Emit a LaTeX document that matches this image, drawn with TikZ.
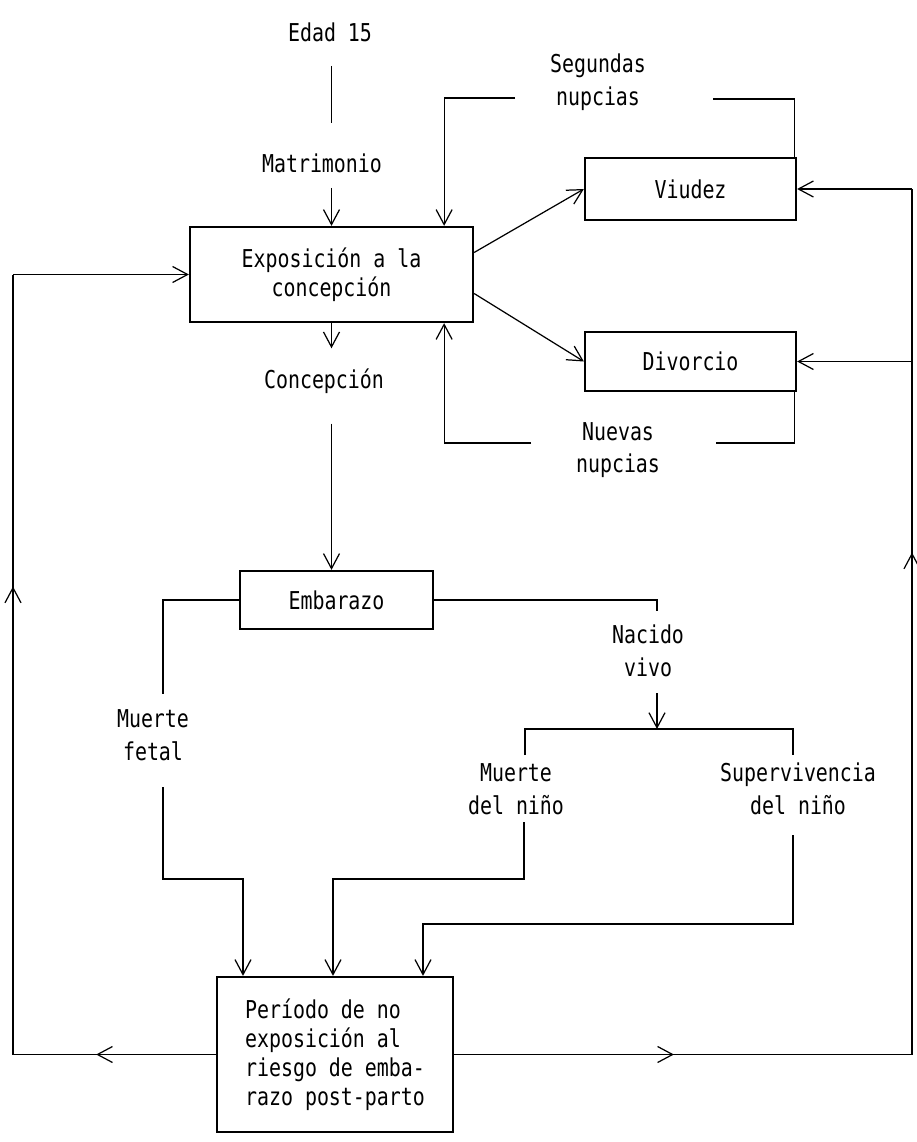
\documentclass[tikz,border=0pt]{standalone}
\usepackage{fontspec}
\usepackage{tikz}
\usetikzlibrary{arrows.meta,decorations.markings}
\newfontfamily\twfont[FakeStretch=0.81]{DejaVu Sans Mono}

\begin{document}
\begin{tikzpicture}[
  x=0.02cm, y=-0.02cm,
  font=\twfont\fontsize{14}{16.5}\selectfont,
  ln/.style={line width=0.7pt,black},
  arr/.style={ln,-{Straight Barb[length=3mm,width=3.2mm]}},
  midarr/.style={ln,postaction={decorate},
    decoration={markings,mark=at position #1 with {\arrow{Straight Barb[length=3mm,width=3.2mm]}}}},
  bx/.style={draw,line width=1.3pt,align=center,inner sep=0pt},
  lbl/.style={align=center,inner sep=0pt,font=\twfont\fontsize{14}{18.5}\selectfont},
  ]
  \useasboundingbox (0,0) rectangle (916,1142);
  \node[lbl] (edad)  at (330,32)  {Edad 15};
  \node[lbl] (matri) at (322,163) {Matrimonio};
  \node[bx,minimum width=5.66cm,minimum height=1.9cm] (expo) at (331.5,274.5) {Exposición a la\\concepción};
  \node[lbl] (concep) at (324,381) {Concepción};
  \node[bx,minimum width=4.22cm,minimum height=1.24cm] (viudez)   at (690.5,189)   {Viudez};
  \node[bx,minimum width=4.22cm,minimum height=1.18cm] (divorcio) at (690.5,361.5) {Divorcio};
  \node[lbl] (segundas) at (598,82)  {Segundas\\nupcias};
  \node[lbl] (nuevas)   at (618,450) {Nuevas\\nupcias};
  \node[bx,minimum width=3.86cm,minimum height=1.16cm] (embarazo) at (336.5,600) {Embarazo};
  \node[lbl] (fetal)  at (153,735) {Muerte\\fetal};
  \node[lbl] (nacido) at (648,651) {Nacido\\vivo};
  \node[lbl] (mnino)  at (516,789) {Muerte\\del niño};
  \node[lbl] (superv) at (798,789) {Supervivencia\\del niño};
  \node[bx,align=left,minimum width=4.72cm,minimum height=3.1cm] (post) at (335,1054.5)
    {Período de no\\exposición al\\riesgo de emba-\\razo post-parto};

  \coordinate (segR) at (713,99);
  \coordinate (segL) at (515,98);
  \coordinate (nueR) at (716,443);
  \coordinate (nueL) at (531,443);
  \coordinate (rx)   at (912,0);
  \coordinate (lx)   at (13,0);
  \coordinate (fetT) at (163,694);
  \coordinate (fetB) at (163,787);
  \coordinate (fetC) at (243,879);
  \coordinate (nacT) at (657,611);
  \coordinate (nacB) at (657,693);
  \coordinate (brk)  at (657,729);
  \coordinate (brL)  at (525,755);
  \coordinate (brR)  at (793,755);
  \coordinate (mnB)  at (524,822);
  \coordinate (mnC)  at (333,879);
  \coordinate (svB)  at (793,835);
  \coordinate (svC)  at (423,924);

  \draw[ln,shorten <=0.48cm,shorten >=0.6cm] (edad.south -| expo) -- (matri.north -| expo);
  \draw[arr,shorten <=0.3cm] (matri.south -| expo) -- (expo.north);
  \draw[arr,shorten >=0.4cm] (expo.south) -- (concep.north -| expo);
  \draw[arr,shorten <=0.6cm] (concep.south -| expo) -- (embarazo.north -| expo);

  \draw[arr] ([yshift=0.44cm]expo.east) -- (viudez.west);
  \draw[arr] ([yshift=-0.38cm]expo.east) -- (divorcio.west);

  \draw[ln]  ([xshift=-0.06cm]viudez.north east) |- (segR);
  \draw[arr] (segL) -| ([xshift=-0.6cm]expo.north east);
  \draw[ln]  ([xshift=-0.06cm]divorcio.south east) |- (nueR);
  \draw[arr] (nueL) -| ([xshift=-0.6cm]expo.south east);

  \draw[midarr=0.48] (post.east) -- (post.east -| rx);
  \draw[midarr=0.58] (post.east -| rx) -- (viudez.east -| rx);
  \draw[arr] (viudez.east -| rx) -- (viudez.east);
  \draw[arr] (divorcio.east -| rx) -- (divorcio.east);

  \draw[midarr=0.59] (post.west) -- (post.west -| lx);
  \draw[midarr=0.6]  (post.west -| lx) -- (expo.west -| lx);
  \draw[arr] (expo.west -| lx) -- (expo.west);

  \draw[ln]  (embarazo.west) -| (fetT);
  \draw[arr] (fetB) |- (fetC) -- (fetC |- post.north);
  \draw[ln]  (embarazo.east) -| (nacT);
  \draw[arr] (nacB) -- (brk);
  \draw[ln]  (brL) |- (brk) -| (brR);
  \draw[arr] (mnB) |- (mnC) -- (mnC |- post.north);
  \draw[arr] (svB) |- (svC) -- (svC |- post.north);
\end{tikzpicture}
\end{document}
